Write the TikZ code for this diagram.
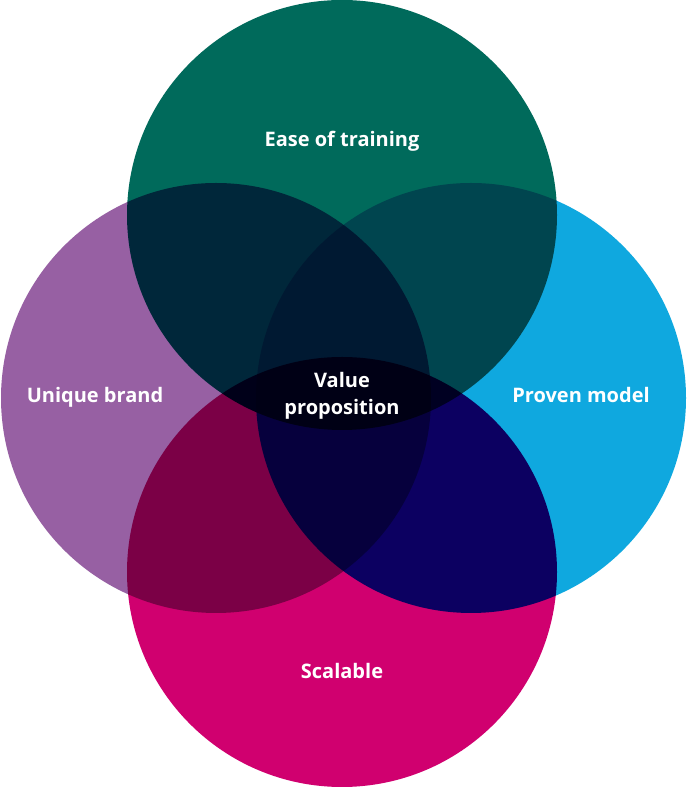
\documentclass[tikz,border=0pt]{standalone}
\usepackage{fontspec}
\setmainfont{Open Sans}
\definecolor{cgreen}{HTML}{006A5B}
\definecolor{cpurple}{HTML}{9760A3}
\definecolor{cblue}{HTML}{0FA8DF}
\definecolor{cmag}{HTML}{D0006F}
\begin{document}
\begin{tikzpicture}[x=1pt,y=1pt,
  lab/.style={text=white, font=\fontsize{20}{27}\selectfont\bfseries, align=center, anchor=base, inner sep=0pt}]
\useasboundingbox (0,0) rectangle (688,800);
\fill[white] (0,0) rectangle (688,800);
\begin{scope}[blend group=multiply]
\path[fill=cgreen] (342,585) circle (215);
\path[fill=cpurple] (216,402) circle (215);
\path[fill=cblue] (471,402) circle (215);
\path[fill=cmag] (342,228) circle (215);
\end{scope}
\node[lab] (ease) at (342,653) {Ease of training};
\node[lab] (uniq) at (95,397) {Unique brand};
\node[lab] (prov) at (581,397) {Proven model};
\node[lab] (val) at (342,385) {Value\\proposition};
\node[lab] (scal) at (342,121) {Scalable};
\end{tikzpicture}
\end{document}
